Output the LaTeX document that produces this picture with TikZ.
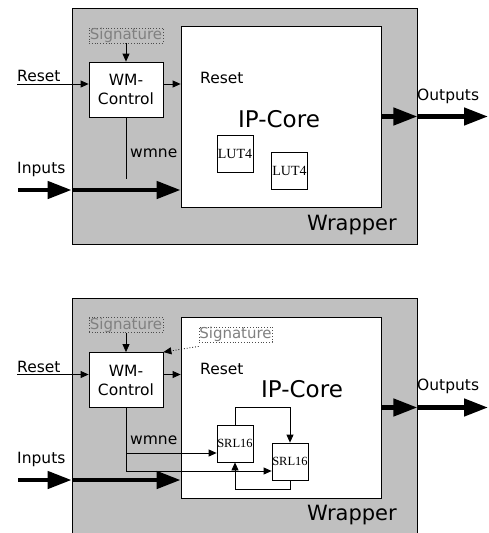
\documentclass[tikz,border=0pt]{standalone}
\usepackage{fontspec}
\setmainfont{DejaVu Sans}
\newfontfamily\lutfont{Liberation Serif}
\usetikzlibrary{arrows.meta}
\definecolor{wrapgray}{HTML}{C0C0C0}
\definecolor{siggray}{HTML}{808080}
\begin{document}
\begin{tikzpicture}[x=1pt,y=-1pt,
  box/.style={draw=black,line width=0.8pt,inner sep=0pt,rectangle},
  wrapbox/.style={box,fill=wrapgray},
  corebox/.style={box,fill=white},
  sigbox/.style={draw=black!70,dotted,line width=0.8pt,fill=wrapgray,inner sep=0pt,text=siggray,font=\fontsize{15}{15}\selectfont,minimum width=74pt,minimum height=15pt},
  sigbox2/.style={sigbox,fill=white},
  wmbox/.style={box,fill=white,minimum width=74pt,minimum height=55pt,align=center,font=\fontsize{15.5}{19}\selectfont},
  lutbox/.style={box,fill=white,minimum width=36pt,minimum height=37pt,font=\lutfont\fontsize{14}{14}\selectfont},
  srlbox/.style={lutbox,font=\lutfont\fontsize{12.5}{13}\selectfont},
  lbl/.style={inner sep=0pt,anchor=base west,font=\fontsize{15.5}{16}\selectfont},
  biglbl/.style={inner sep=0pt,anchor=base west,font=\fontsize{23}{24}\selectfont},
  wraplbl/.style={inner sep=0pt,anchor=base west,font=\fontsize{21}{22}\selectfont},
  thinarr/.style={line width=0.8pt,-{Triangle[length=8pt,width=7pt]}},
  thinline/.style={line width=0.8pt},
  thickarr/.style={line width=4.5pt,-{Triangle[length=24pt,width=17pt]}},
  dotarr/.style={line width=0.8pt,dotted,draw=black,-{Triangle[length=8pt,width=7pt,fill=black]}}
]
\useasboundingbox (0,0) rectangle (488,533);

% ================= TOP =================
\node[wrapbox,minimum width=345pt,minimum height=236pt] (W1) at (244.5,126) {};
\node[corebox,minimum width=200pt,minimum height=181pt] (C1) at (281,116.5) {};
\node[sigbox] (S1) at (126,35.5) {Signature};
\node[wmbox] (M1) at (126,89.5) {WM-\\Control};
\node[lutbox] (L1) at (235,153.5) {LUT4};
\node[lutbox] (L2) at (289.5,171) {LUT4};

\node[lbl] (tR1) at (17,81.5) {Reset};
\node[lbl] (tR1b) at (200,83) {Reset};
\node[biglbl] (tC1) at (238,127) {IP-Core};
\node[lbl] (tW1) at (130,157) {wmne};
\node[lbl] (tI1) at (17,173) {Inputs};
\node[lbl] (tO1) at (417,100) {Outputs};
\node[wraplbl] (tWr1) at (307,230) {Wrapper};

\coordinate (R1) at (17,84);
\coordinate (N1) at (126,179);
\coordinate (I1) at (18,190);
\coordinate (O1) at (488,116.5);

\draw[thinarr] (S1.south) -- (M1.north);
\draw[thinarr] (R1) -- (R1 -| M1.west);
\draw[thinarr] (R1 -| M1.east) -- (R1 -| C1.west);
\draw[thinline] (M1.south) -- (N1);
\draw[thickarr] (I1) -- (I1 -| W1.west);
\draw[thickarr] (I1 -| W1.west) -- (I1 -| C1.west);
\draw[thickarr] (C1.east) -- (C1.east -| W1.east);
\draw[thickarr] (C1.east -| W1.east) -- (O1);

% ================= BOTTOM =================
\node[wrapbox,minimum width=345pt,minimum height=244pt] (W2) at (244.5,420) {};
\node[corebox,minimum width=200pt,minimum height=181pt] (C2) at (281,407.5) {};
\node[sigbox] (S2) at (126,325) {Signature};
\node[sigbox2,minimum width=73pt] (S3) at (235.5,334.5) {Signature};
\node[wmbox] (M2) at (126,380) {WM-\\Control};
\node[srlbox] (Q1) at (235,443.5) {SRL16};
\node[srlbox] (Q2) at (290,461.5) {SRL16};

\node[lbl] (tR2) at (17,372) {Reset};
\node[lbl] (tR2b) at (200,374.5) {Reset};
\node[biglbl] (tC2) at (261,397) {IP-Core};
\node[lbl] (tW2) at (130,444) {wmne};
\node[lbl] (tI2) at (17,463) {Inputs};
\node[lbl] (tO2) at (417,390) {Outputs};
\node[wraplbl] (tWr2) at (307,520.5) {Wrapper};

\coordinate (R2) at (17,374.5);
\coordinate (I2) at (18,480);
\coordinate (O2) at (488,407.5);
\coordinate (B1) at (126,453);
\coordinate (B2) at (126,471);
\coordinate (T1) at (235,407);
\coordinate (U1) at (235,489);

\draw[thinarr] (S2.south) -- (M2.north);
\draw[dotarr] ([yshift=-4pt]S3.south west) -- (M2.north east);
\draw[thinarr] (R2) -- (R2 -| M2.west);
\draw[thinarr] (R2 -| M2.east) -- (R2 -| C2.west);
\draw[thinline] (M2.south) -- (B2);
\draw[thinarr] (B1) -- (B1 -| Q1.west);
\draw[thinarr] (B2) -- (B2 -| Q2.west);
\draw[thinarr] (Q1.north) -- (T1) -- (T1 -| Q2.north) -- (Q2.north);
\draw[thinarr] (Q2.south) -- (U1 -| Q2.south) -- (U1) -- (Q1.south);
\draw[thickarr] (I2) -- (I2 -| W2.west);
\draw[thickarr] (I2 -| W2.west) -- (I2 -| C2.west);
\draw[thickarr] (C2.east) -- (C2.east -| W2.east);
\draw[thickarr] (C2.east -| W2.east) -- (O2);
\end{tikzpicture}
\end{document}
